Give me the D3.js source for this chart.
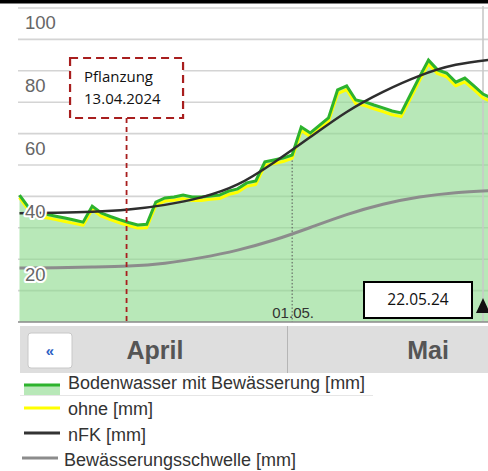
<!DOCTYPE html>
<html><head><meta charset="utf-8">
<script src="https://cdn.jsdelivr.net/npm/d3@7"></script>
<style>html,body{margin:0;padding:0;background:#fff;overflow:hidden}svg{display:block}</style>
</head><body>
<script>
// ---------- data ----------
const dates = ["2024-04-01","2024-04-02","2024-04-03","2024-04-04","2024-04-05","2024-04-06","2024-04-07","2024-04-08","2024-04-09","2024-04-10",
"2024-04-11","2024-04-12","2024-04-13","2024-04-14","2024-04-15","2024-04-16","2024-04-17","2024-04-18","2024-04-19","2024-04-20",
"2024-04-21","2024-04-22","2024-04-23","2024-04-24","2024-04-25","2024-04-26","2024-04-27","2024-04-28","2024-04-29","2024-04-30",
"2024-05-01","2024-05-02","2024-05-03","2024-05-04","2024-05-05","2024-05-06","2024-05-07","2024-05-08","2024-05-09","2024-05-10",
"2024-05-11","2024-05-12","2024-05-13","2024-05-14","2024-05-15","2024-05-16","2024-05-17","2024-05-18","2024-05-19","2024-05-20",
"2024-05-21","2024-05-22","2024-05-23"];
const bodenwasser = [40.4,36.5,34.5,34.3,33.7,33.1,32.5,31.8,36.9,34.7,
33.6,32.6,31.7,30.9,31.1,38.2,39.5,39.8,40.4,39.8,
39.8,40.1,40.4,41.7,42.4,44.3,44.9,51.0,51.6,52.2,
53.2,62.1,60.2,62.6,65.0,73.9,75.2,70.7,70.1,69.1,
68.2,67.2,66.6,72.3,78.0,83.4,80.3,79.3,76.4,77.7,
75.2,72.6,71.3];
const ohne = [39.6,35.6,33.5,33.2,32.6,32.0,31.4,30.8,35.8,33.7,
32.6,31.6,30.7,29.9,30.0,37.2,38.5,38.8,39.3,38.7,
38.7,39.1,39.3,40.6,41.3,43.2,43.8,49.9,50.5,51.1,
52.1,61.0,59.1,61.5,63.9,72.7,74.0,69.5,68.9,67.9,
67.0,66.0,65.4,71.1,76.8,82.2,79.1,78.1,75.2,76.5,
74.0,71.4,70.1];
const nfkDates = ["2024-04-01","2024-04-05","2024-04-09","2024-04-13","2024-04-17","2024-04-21","2024-04-25","2024-04-29","2024-05-03","2024-05-07","2024-05-11","2024-05-15","2024-05-19","2024-05-23"];
const nfk = [34.6,34.8,35.1,35.8,37.3,39.7,43.8,50.8,58.9,66.9,73.3,78.4,81.9,83.6];
const schwelleDates = ["2024-04-01","2024-04-05","2024-04-09","2024-04-13","2024-04-17","2024-04-21","2024-04-25","2024-04-29","2024-05-03","2024-05-07","2024-05-11","2024-05-15","2024-05-19","2024-05-23"];
const schwelle = [17.2,17.3,17.5,17.8,18.7,20.5,22.9,26.1,30.1,34.2,37.5,39.8,41.2,41.9];
const yTicks = [20,40,60,80,100];
const gridValues = [10,20,30,40,50,60,70,80,90,100];
const monthLabels = ["April","Mai"];
const legendLabels = ["Bodenwasser mit Bewässerung [mm]","ohne [mm]","nFK [mm]","Bewässerungsschwelle [mm]"];
const pflanzDate = "2024-04-13";
const pflanzLabel = ["Pflanzung","13.04.2024"];
const markDate = "2024-05-01";
const markLabel = "01.05.";
const todayDate = "2024-05-22";
const todayLabel = "22.05.24";

// ---------- layout ----------
const W = 488, H = 471;
const parse = d3.timeParse("%Y-%m-%d");
const x = d3.scaleTime().domain([parse("2024-04-01"), parse("2024-05-22")]).range([19.5, 483]);
const y = d3.scaleLinear().domain([0, 100]).range([322, 8]);
const plotL = 18, plotR = 488, plotT = 4, plotB = 322;

const svg = d3.select("body").append("svg").attr("width", W).attr("height", H);
svg.append("defs").append("clipPath").attr("id","clip")
  .append("rect").attr("x",plotL).attr("y",plotT).attr("width",plotR-plotL).attr("height",plotB-plotT);

// top black bar
svg.append("rect").attr("x",0).attr("y",0).attr("width",W).attr("height",3.5).attr("fill","#000");

// gridlines
svg.append("g").selectAll("line").data(gridValues).join("line")
  .attr("x1",plotL).attr("x2",plotR).attr("y1",d=>y(d)).attr("y2",d=>y(d))
  .attr("stroke","#d4d4d4").attr("stroke-width",1.6);

const plot = svg.append("g").attr("clip-path","url(#clip)");
const bw = dates.map((d,i)=>({x:parse(d), v:bodenwasser[i]}));
const oh = dates.map((d,i)=>({x:parse(d), v:ohne[i]}));
const nf = nfkDates.map((d,i)=>({x:parse(d), v:nfk[i]}));
const sw = schwelleDates.map((d,i)=>({x:parse(d), v:schwelle[i]}));

plot.append("path").datum(bw)
  .attr("d", d3.area().x(d=>x(d.x)).y0(y(0)).y1(d=>y(d.v)))
  .attr("fill","rgb(140,218,140)").attr("fill-opacity",0.62);

// dotted marker line 01.05.
const mIdx = dates.indexOf(markDate);
plot.append("line").attr("x1",x(parse(markDate))).attr("x2",x(parse(markDate)))
  .attr("y1",y(bodenwasser[mIdx])+2).attr("y2",y(0))
  .attr("stroke","#555").attr("stroke-width",1).attr("stroke-dasharray","1.5,2");

// today vertical line
plot.append("line").attr("x1",x(parse(todayDate))).attr("x2",x(parse(todayDate)))
  .attr("y1",plotT+2).attr("y2",plotB).attr("stroke","#c8c8c8").attr("stroke-width",1.6);

const lineGen = d3.line().x(d=>x(d.x)).y(d=>y(d.v));
const smooth = d3.line().x(d=>x(d.x)).y(d=>y(d.v)).curve(d3.curveNatural);

plot.append("path").datum(sw).attr("d",smooth).attr("fill","none")
  .attr("stroke","#8c8c8c").attr("stroke-width",3);
plot.append("path").datum(oh).attr("d",lineGen).attr("fill","none")
  .attr("stroke","#ffff00").attr("stroke-width",3).attr("stroke-linejoin","round");
plot.append("path").datum(bw).attr("d",lineGen).attr("fill","none")
  .attr("stroke","#2db32d").attr("stroke-width",3).attr("stroke-linejoin","miter");
plot.append("path").datum(nf).attr("d",smooth).attr("fill","none")
  .attr("stroke","#2e2e2e").attr("stroke-width",2.5);

// x axis line
svg.append("line").attr("x1",plotL).attr("x2",plotR).attr("y1",y(0)).attr("y2",y(0))
  .attr("stroke","#8a8a8a").attr("stroke-width",1.5);

// y labels
svg.append("g").selectAll("text").data(yTicks).join("text")
  .attr("x",25).attr("y",d=>y(d)+15).attr("dy","0.35em")
  .attr("font-family","Liberation Sans, Arial, sans-serif").attr("font-size",18.5)
  .attr("fill","#666").attr("stroke","#fff").attr("stroke-width",4).attr("stroke-linejoin","round")
  .attr("paint-order","stroke").text(d=>d);

// 01.05. label
svg.append("text").attr("x",x(parse(markDate))+1).attr("y",313).attr("dy","0.35em")
  .attr("text-anchor","middle").attr("font-family","Liberation Sans, Arial, sans-serif")
  .attr("font-size",15).attr("fill","#333").text(markLabel);

// Pflanzung annotation
const px = x(parse(pflanzDate)) - 2;
const boxW = 113, boxT = 58, boxB = 118;
svg.append("line").attr("x1",px).attr("x2",px).attr("y1",boxB).attr("y2",y(0))
  .attr("stroke","#a81e1e").attr("stroke-width",1.8).attr("stroke-dasharray","5,4");
svg.append("rect").attr("x",px-boxW/2).attr("y",boxT).attr("width",boxW).attr("height",boxB-boxT)
  .attr("fill","#fff").attr("stroke","#a81e1e").attr("stroke-width",2.2).attr("stroke-dasharray","8,5");
svg.append("g").selectAll("text").data(pflanzLabel).join("text")
  .attr("x",px-boxW/2+14).attr("y",(d,i)=>77+i*22).attr("dy","0.35em")
  .attr("font-family","Open Sans, sans-serif").attr("font-size",15).attr("fill","#111").text(d=>d);

// today box
svg.append("rect").attr("x",364).attr("y",282).attr("width",108).attr("height",36)
  .attr("fill","#fff").attr("stroke","#000").attr("stroke-width",2);
svg.append("text").attr("x",418).attr("y",300).attr("dy","0.35em").attr("text-anchor","middle")
  .attr("font-family","Open Sans, sans-serif").attr("font-size",15.5).attr("fill","#111").text(todayLabel);
svg.append("path").attr("d","M476,313 L483,298 L490,313 Z").attr("fill","#111");

// navigator band
svg.append("rect").attr("x",20).attr("y",326).attr("width",W-20).attr("height",47).attr("fill","#dedede");
svg.append("line").attr("x1",287.5).attr("x2",287.5).attr("y1",326).attr("y2",373).attr("stroke","#b5b5b5").attr("stroke-width",1);
svg.append("rect").attr("x",28).attr("y",333).attr("width",44).attr("height",35).attr("rx",3)
  .attr("fill","#fff").attr("stroke","#c8c8c8").attr("stroke-width",1);
svg.append("text").attr("x",50).attr("y",351).attr("dy","0.35em").attr("text-anchor","middle")
  .attr("font-family","Liberation Sans, Arial, sans-serif").attr("font-size",15).attr("font-weight","bold")
  .attr("fill","#2c5fc4").text("«");
const monthX = [155, 428];
svg.append("g").selectAll("text").data(monthLabels).join("text")
  .attr("x",(d,i)=>monthX[i]).attr("y",350).attr("dy","0.35em").attr("text-anchor","middle")
  .attr("font-family","Liberation Sans, Arial, sans-serif").attr("font-size",25).attr("font-weight","bold")
  .attr("fill","#555").text(d=>d);

// legend
const legY = [383, 409, 435, 460];
const symY = [385, 408, 433, 458];
const legColors = ["#2db32d","#ffff00","#333","#8c8c8c"];
const leg = svg.append("g");
leg.append("line").attr("x1",20).attr("x2",373).attr("y1",395.5).attr("y2",395.5).attr("stroke","#e6e6e6").attr("stroke-width",1);
leg.append("rect").attr("x",24).attr("y",385).attr("width",36).attr("height",10).attr("fill","rgb(140,218,140)").attr("fill-opacity",0.62);
legendLabels.forEach((t,i)=>{
  leg.append("line").attr("x1",i===3?22:24).attr("x2",i===3?58:60).attr("y1",symY[i]).attr("y2",symY[i])
    .attr("stroke",legColors[i]).attr("stroke-width",3);
  leg.append("text").attr("x",i===3?64:68).attr("y",legY[i]).attr("dy","0.35em")
    .attr("font-family","Liberation Sans, Arial, sans-serif").attr("font-size",18).attr("fill","#333").text(t);
});
</script>
</body></html>
